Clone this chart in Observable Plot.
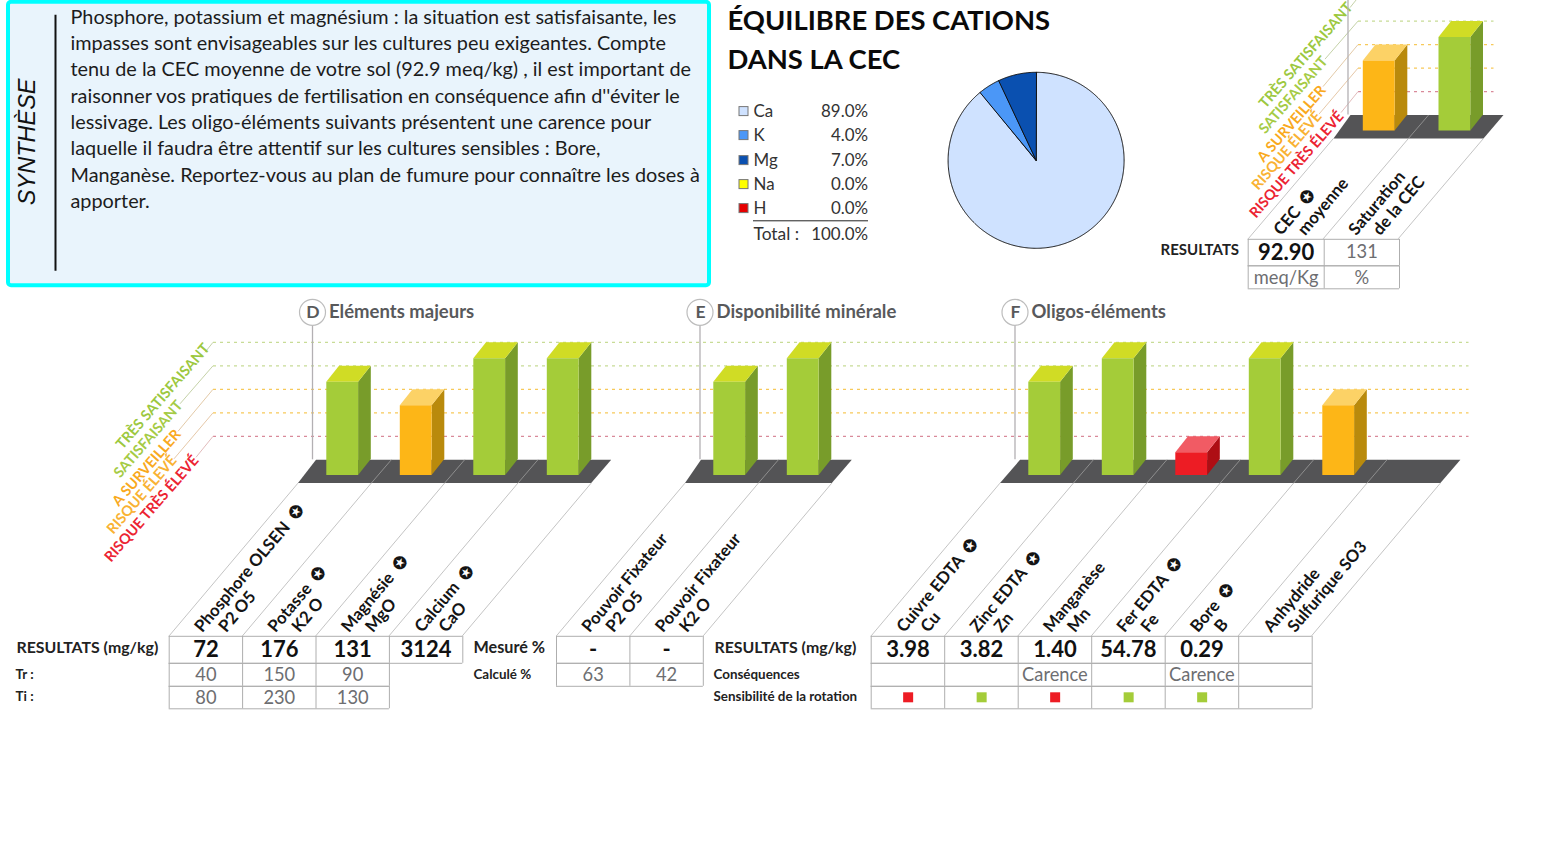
<!DOCTYPE html>
<html lang="fr">
<head>
<meta charset="utf-8">
<script src="https://cdn.jsdelivr.net/npm/d3@7"></script>
<script src="https://cdn.jsdelivr.net/npm/@observablehq/plot@0.6"></script>
<style>html,body{margin:0;padding:0;background:#fff}svg{display:block}</style>
</head>
<body>
<div id="chart"></div>
<script>
// ---------- DATA ----------
const syntheseLignes = [
  "Phosphore, potassium et magnésium : la situation est satisfaisante, les",
  "impasses sont envisageables sur les cultures peu exigeantes. Compte",
  "tenu de la CEC moyenne de votre sol (92.9 meq/kg) , il est important de",
  "raisonner vos pratiques de fertilisation en conséquence afin d''éviter le",
  "lessivage. Les oligo-éléments suivants présentent une carence pour",
  "laquelle il faudra être attentif sur les cultures sensibles : Bore,",
  "Manganèse. Reportez-vous au plan de fumure pour connaître les doses à",
  "apporter."
];
const cations = ["Ca","K","Mg","Na","H"];
const cationsPct = [89,4,7,0,0];
const niveauxNoms = ["RISQUE TRÈS ÉLEVÉ","RISQUE ÉLEVÉ","A SURVEILLER","SATISFAISANT","TRÈS SATISFAISANT"];

const majeursNiveaux = [4,3,5,5];
const majeursL1 = ["Phosphore OLSEN  ✪","Potasse  ✪","Magnésie  ✪","Calcium  ✪"];
const majeursL2 = ["P2 O5","K2 O","MgO","CaO"];
const majeursRes = ["72","176","131","3124"];
const majeursTr = ["40","150","90"];
const majeursTi = ["80","230","130"];

const dispoNiveaux = [4,5];
const dispoL1 = ["Pouvoir Fixateur","Pouvoir Fixateur"];
const dispoL2 = ["P2 O5","K2 O"];
const dispoMesure = ["-","-"];
const dispoCalcule = ["63","42"];

const oligoNiveaux = [4,5,1,5,3,null];
const oligoL1 = ["Cuivre EDTA  ✪","Zinc EDTA  ✪","Manganèse","Fer EDTA  ✪","Bore  ✪","Anhydride"];
const oligoL2 = ["Cu","Zn","Mn","Fe","B","Sulfurique SO3"];
const oligoRes = ["3.98","3.82","1.40","54.78","0.29",""];
const oligoCons = ["","","Carence","","Carence",""];
const oligoSens = [1,5,1,5,5,null];

const cecNiveaux = [3,4];
const cecL1 = ["CEC  ✪","Saturation"];
const cecL2 = ["moyenne","de la CEC"];
const cecRes = ["92.90","131"];
const cecUnite = ["meq/Kg","%"];

// ---------- STYLES ----------
const F = "Lato, Carlito, Calibri, sans-serif";
const tons = {
  1:{front:"#ed1c24",side:"#ae0e14",top:"#f15b64",dash:"#d98a9a",diag:"#e2bcbc",label:"#ec2432"},
  2:{front:"#fdb617",side:"#b98a0c",top:"#fcd266",dash:"#f7c95a",diag:"#e6c8a8",label:"#f9b233"},
  3:{front:"#fdb617",side:"#b98a0c",top:"#fcd266",dash:"#f7c95a",diag:"#e3caa8",label:"#f9a91d"},
  4:{front:"#a4cc39",side:"#789c2a",top:"#d0dc25",dash:"#c8dc96",diag:"#c5d2a8",label:"#a5cb45"},
  5:{front:"#a4cc39",side:"#789c2a",top:"#d0dc25",dash:"#c8dc96",diag:"#c5d2a8",label:"#9cc83f"}
};
const GRIS = "#aeaeae";

// ---------- LAYOUT ----------
const LEVEL = 23.5, DEP = {x:12.7, y:16}, FLOOR = {dx:20, dy:23.3};
const mainBack = 460, cecBack = 115.3;
const panels = [
  {niv:majeursNiveaux, l1:majeursL1, l2:majeursL2, x0:298.5, slot:73.3, back:mainBack, tableX:169.7, tableY:636, n:4, left:18, bx:28.3, bs:73.5},
  {niv:dispoNiveaux, l1:dispoL1, l2:dispoL2, x0:685.5, slot:73.4, back:mainBack, tableX:557, tableY:636, n:2, left:16, bx:28.3, bs:73.5},
  {niv:oligoNiveaux, l1:oligoL1, l2:oligoL2, x0:1000.5, slot:73.4, back:mainBack, tableX:871.7, tableY:636, n:6, left:20, bx:28.3, bs:73.5},
  {niv:cecNiveaux, l1:cecL1, l2:cecL2, x0:1334, slot:75, back:cecBack, tableX:1248.7, tableY:239, n:2, left:17, bx:29.3, bs:75.7}
];

// ---------- GEOMETRY from data ----------
const polys = [];
const addPoly = (color, pts) => {
  const id = polys.length ? polys[polys.length-1].id + 1 : 0;
  pts.forEach(([x,y]) => polys.push({id, x, y, color}));
};
const links = [];
panels.forEach(p => {
  const frontY = p.back + FLOOR.dy;
  const xR = p.x0 + p.slot * p.n;
  addPoly("#545456", [[p.x0, frontY],[xR, frontY],[xR + FLOOR.dx, p.back],[p.x0 + p.left, p.back]]);
});
panels.forEach(p => {
  const frontY = p.back + FLOOR.dy;
  for (let i = 0; i <= p.n; i++) {
    const tx = p.tableX + i * p.slot, fx = p.x0 + i * p.slot;
    links.push({x1:tx, y1:p.tableY, x2:fx, y2:frontY, s:"#c4c4c4", w:1});
    if (i > 0 && i < p.n) links.push({x1:fx, y1:frontY, x2:fx + FLOOR.dx, y2:p.back, s:"#8e8e8e", w:1});
  }
  p.niv.forEach((v,i) => {
    if (v == null) return;
    const t = tons[v];
    const xa = p.x0 + p.bx + i * p.bs, xb = xa + 31.8;
    const yb = p.back + 15.3, yt = p.back - v * LEVEL + DEP.y;
    addPoly(t.side, [[xb,yb],[xb+DEP.x,yb-DEP.y],[xb+DEP.x,yt-DEP.y],[xb,yt]]);
    addPoly(t.top, [[xa,yt],[xb,yt],[xb+DEP.x,yt-DEP.y],[xa+DEP.x,yt-DEP.y]]);
    addPoly(t.front, [[xa,yb],[xb,yb],[xb,yt],[xa,yt]]);
  });
});

// level guides
const levels = [1,2,3,4,5];
const guideRows = [
  ...levels.map(v => ({v, x1:213.5, x2:1469, y:mainBack - v*LEVEL})),
  ...levels.map(v => ({v, x1:1358.5, x2:1494, y:cecBack - v*LEVEL}))
];
const diagLen = {1:{dx:-17,dy:21},2:{dx:-39,dy:46},3:{dx:-35,dy:42},4:{dx:-33,dy:38},5:{dx:-8,dy:10}};
const diagRows = [];
[[0,mainBack,213.5],[1,cecBack,1358.5]].forEach(([k,b,xs]) => levels.forEach(v => diagRows.push({
  x1:xs, y1:b-v*LEVEL, x2:xs+diagLen[v].dx, y2:b-v*LEVEL+diagLen[v].dy, s:tons[v].diag
})));
// end of each level label (right end, along the rotated baseline)
const labelEnd = {1:[196.5,458],2:[174.5,458],3:[178.5,432],4:[180.5,403],5:[207.5,346]};
const labelRows = [];
[[0,0],[1145,-344]].forEach(([dx,dy]) => levels.forEach(v => labelRows.push({
  x:labelEnd[v][0]+dx-(dx&&v===5?2:0), y:labelEnd[v][1]+dy+(dx&&v===5?3:0), text:niveauxNoms[v-1], fill:tons[v].label
})));

// column headers
const head1 = [], head2 = [];
panels.forEach(p => p.l1.forEach((s,i) => {
  const xc = p.tableX + i*p.slot, y = p.tableY - 6;
  head1.push({x:xc+29, y, text:s});
  head2.push({x:xc+53, y, text:p.l2[i]});
}));

// section titles
const sections = [
  {x:313, letter:"D", title:"Eléments majeurs"},
  {x:700.5, letter:"E", title:"Disponibilité minérale"},
  {x:1015.5, letter:"F", title:"Oligos-éléments"}
];

// tables
const grid = [];
const table = (xs, ys, spans) => {
  spans.forEach((n,r) => {
    grid.push({k:"h",y:ys[r],x1:xs[0],x2:xs[n]});
    grid.push({k:"h",y:ys[r+1],x1:xs[0],x2:xs[n]});
    for (let c=0;c<=n;c++) grid.push({k:"v",x:xs[c],y1:ys[r],y2:ys[r+1]});
  });
};
const cols = (x,n,s) => d3.range(n+1).map(i=>x+i*s);
const xD = cols(169.7,4,73.4), xE = cols(557,2,73.4), xF = cols(871.7,6,73.5), xC = [1248.7,1324.7,1400];
const rowY = [636.5,663.5,686.5,709], rowC = [239.5,266,289];
table(xD,rowY,[4,3,3]);
table(xE,rowY,[2,2]);
table(xF,rowY,[6,6,6]);
table(xC,rowC,[2,2]);
const mid = (xs,i) => (xs[i]+xs[i+1])/2;
const bolds = [
  ...majeursRes.map((t,i)=>({x:mid(xD,i),y:650,text:t})),
  ...dispoMesure.map((t,i)=>({x:mid(xE,i),y:650,text:t})),
  ...oligoRes.map((t,i)=>({x:mid(xF,i),y:650,text:t})),
  {x:mid(xC,0),y:252.7,text:cecRes[0]}
];
const greys = [
  ...majeursTr.map((t,i)=>({x:mid(xD,i),y:675.3,text:t})),
  ...majeursTi.map((t,i)=>({x:mid(xD,i),y:698.3,text:t})),
  ...dispoCalcule.map((t,i)=>({x:mid(xE,i),y:675.3,text:t})),
  ...oligoCons.map((t,i)=>({x:mid(xF,i),y:675.3,text:t})),
  {x:mid(xC,1),y:252.7,text:cecRes[1]},
  ...cecUnite.map((t,i)=>({x:mid(xC,i),y:278.3,text:t}))
];
const sens = oligoSens.map((v,i)=>({v,c:mid(xF,i)+0.7})).filter(d=>d.v!=null);

const labelsBig = [
  {x:17,y:648.5,text:"RESULTATS (mg/kg)",s:15.9},{x:474,y:648.5,text:"Mesuré %",s:16.2},
  {x:715,y:648.5,text:"RESULTATS (mg/kg)",s:15.9},{x:1161,y:250.7,text:"RESULTATS",s:15}
];
const labelsSmall = [
  {x:16,y:674.5,text:"Tr :"},{x:16,y:697,text:"Ti :"},{x:474,y:674.5,text:"Calculé %"},
  {x:714,y:674.5,text:"Conséquences"},{x:714,y:697,text:"Sensibilité de la rotation"}
];

// pie
const pie = d3.pie().sort(null)(cationsPct);
const pieC = {x:1036.6,y:160.5,r:88};
const pieColors = ["#cfe2ff","#4b97f7","#0a50b0","#ffff00","#e60000"];
const pieRows = [];
pie.forEach((s,i) => {
  if (s.value === 0) return;
  const steps = Math.max(2, Math.ceil((s.endAngle-s.startAngle)/0.01));
  pieRows.push({i,x:pieC.x,y:pieC.y,color:pieColors[i]});
  d3.range(steps+1).forEach(k => {
    const a = s.startAngle + (s.endAngle-s.startAngle)*k/steps;
    pieRows.push({i,x:pieC.x+pieC.r*Math.sin(a),y:pieC.y-pieC.r*Math.cos(a),color:pieColors[i]});
  });
});
const legendY = [111.8,135.8,160.8,184.8,208.8];
const legendRows = cations.map((c,i)=>({name:c,y:legendY[i],pct:cationsPct[i].toFixed(1)+"%",color:pieColors[i]}));

// ---------- PLOT ----------
const plot = Plot.plot({
  width:1557, height:842, margin:0,
  x:{domain:[1,1558],range:[0,1557],axis:null},
  y:{domain:[0.7,842.7],range:[0,842],axis:null},
  color:{type:"identity"},
  style:{background:"#fff",fontFamily:F},
  marks:[
    // synthèse box
    Plot.rect([{x1:9,x2:710,y1:2.5,y2:286}],{x1:"x1",x2:"x2",y1:"y1",y2:"y2",fill:"#e9f4fc",stroke:"#00ffff",strokeWidth:4,rx:3}),
    Plot.ruleX([56],{y1:15.5,y2:271.5,stroke:"#111",strokeWidth:2}),
    Plot.text(["SYNTHÈSE"],{x:()=>28,y:()=>142,text:d=>d,rotate:-90,fontSize:23.5,fontStyle:"italic",fontFamily:"Liberation Sans",fill:"#111"}),
    Plot.text(syntheseLignes,{x:()=>71,y:(d,i)=>17.7+i*26.3,text:d=>d,textAnchor:"start",fontSize:19.85,fontFamily:F,fill:"#1c1c1c"}),

    // title
    Plot.text(["ÉQUILIBRE DES CATIONS","DANS LA CEC"],{x:()=>728,y:(d,i)=>21+i*39,text:d=>d,textAnchor:"start",fontSize:27.4,fontWeight:700,fontFamily:F,fill:"#0a0a0a"}),

    // legend
    Plot.rect(legendRows,{x1:()=>740,x2:()=>749,y1:d=>d.y-4.5,y2:d=>d.y+4.5,fill:"color",stroke:"#777",strokeWidth:1}),
    Plot.text(legendRows,{x:()=>754,y:"y",text:"name",textAnchor:"start",fontSize:16.9,fontFamily:F,fill:"#333"}),
    Plot.text(legendRows,{x:()=>868.5,y:"y",text:"pct",textAnchor:"end",fontSize:16.9,fontFamily:F,fill:"#333"}),
    Plot.ruleY([221],{x1:754,x2:869,stroke:"#222",strokeWidth:1}),
    Plot.text(["Total :"],{x:()=>754,y:()=>234.7,text:d=>d,textAnchor:"start",fontSize:17.4,fontFamily:F,fill:"#333"}),
    Plot.text(["100.0%"],{x:()=>868.5,y:()=>234.7,text:d=>d,textAnchor:"end",fontSize:16.9,fontFamily:F,fill:"#333"}),

    // pie
    Plot.line(pieRows,{x:"x",y:"y",z:"i",fill:"color",stroke:"#111",strokeWidth:1,curve:"linear-closed"}),

    // level guides
    Plot.link(guideRows,{x1:"x1",x2:"x2",y1:"y",y2:"y",stroke:d=>tons[d.v].dash,strokeWidth:1.3,strokeDasharray:"3,4"}),
    Plot.link(diagRows,{x1:"x1",y1:"y1",x2:"x2",y2:"y2",stroke:"s",strokeWidth:1}),
    Plot.text(labelRows,{x:"x",y:"y",text:"text",fill:"fill",rotate:-49,textAnchor:"end",fontSize:14.4,fontWeight:700,fontFamily:F}),

    // section titles
    Plot.ruleX(sections,{x:"x",y1:()=>325,y2:()=>mainBack,stroke:"#b3b0b3",strokeWidth:1.3}),
    Plot.ruleX([1348.5],{y1:0,y2:cecBack,stroke:"#b3b0b3",strokeWidth:1.3}),
    Plot.dot(sections,{x:"x",y:()=>312.5,r:13,fill:"#fff",stroke:"#bdbdbd",strokeWidth:1.2}),
    Plot.text(sections,{x:d=>d.x+0.5,y:()=>312.5,text:"letter",fontSize:17.5,fontWeight:700,fontFamily:F,fill:"#58595b"}),
    Plot.text(sections,{x:d=>d.x+16.5,y:()=>312,text:"title",textAnchor:"start",fontSize:18.5,fontWeight:700,fontFamily:F,fill:"#58595b"}),

    // floors & bars (polygon order preserved)
    Plot.line(polys.filter(d=>d.color==="#545456"),{x:"x",y:"y",z:"id",fill:"color",stroke:"none",curve:"linear-closed"}),
    Plot.link(links,{x1:"x1",y1:"y1",x2:"x2",y2:"y2",stroke:"s",strokeWidth:"w"}),
    Plot.line(polys.filter(d=>d.color!=="#545456"),{x:"x",y:"y",z:"id",fill:"color",stroke:"none",curve:"linear-closed"}),

    // rotated headers
    Plot.text(head1,{x:"x",y:"y",text:"text",rotate:-50,textAnchor:"start",fontSize:16.7,fontWeight:700,fontFamily:F,fill:"#141414"}),
    Plot.text(head2,{x:"x",y:"y",text:"text",rotate:-50,textAnchor:"start",fontSize:16.7,fontWeight:700,fontFamily:F,fill:"#141414"}),

    // tables
    Plot.ruleY(grid.filter(d=>d.k==="h"),{y:"y",x1:"x1",x2:"x2",stroke:GRIS,strokeWidth:1}),
    Plot.ruleX(grid.filter(d=>d.k==="v"),{x:"x",y1:"y1",y2:"y2",stroke:GRIS,strokeWidth:1}),
    Plot.text(bolds,{x:"x",y:"y",text:"text",fontSize:22,fontWeight:700,fontFamily:F,fill:"#111"}),
    Plot.text(greys,{x:"x",y:"y",text:"text",fontSize:18.3,fontFamily:F,fill:"#6d6e71"}),
    Plot.text(labelsBig,{x:"x",y:"y",text:"text",textAnchor:"start",fontSize:"s",fontWeight:700,fontFamily:F,fill:"#222"}),
    Plot.text(labelsSmall,{x:"x",y:"y",text:"text",textAnchor:"start",fontSize:13.4,fontWeight:700,fontFamily:F,fill:"#222"}),
    Plot.rect(sens,{x1:d=>d.c-5,x2:d=>d.c+5,y1:()=>693,y2:()=>703,fill:d=>tons[d.v].front})
  ]
});
document.getElementById("chart").appendChild(plot);
</script>
</body>
</html>
